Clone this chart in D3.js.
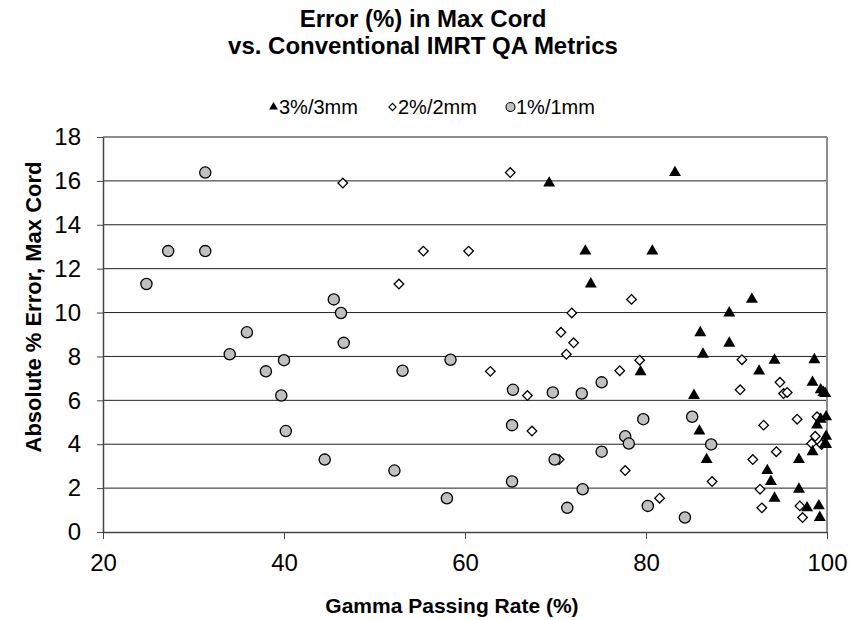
<!DOCTYPE html>
<meta charset="utf-8">
<script src="https://d3js.org/d3.v7.min.js"></script>
<style>
  body { margin: 0; background: #fff; }
  text { font-family: "Liberation Sans", Arial, sans-serif; }
</style>
<div id="chart"></div>
<script>
// gamma passing rate (%) and absolute % error in max cord, per criterion
var gamma3 = [83.2, 69.3, 73.3, 80.7, 73.9, 91.7, 89.2, 86.0, 89.2, 86.3, 94.2, 98.6,
              79.4, 92.5, 98.4, 85.3, 99.3, 99.6, 99.8, 99.9, 99.3, 98.9, 85.9, 99.9,
              99.9, 99.8, 98.4, 86.7, 96.9, 93.4, 93.8, 96.9, 94.2, 97.8, 99.1, 99.2];
var error3 = [16.38, 15.9, 12.8, 12.8, 11.3, 10.6, 9.98, 9.08, 8.6, 8.1, 7.83, 7.85,
              7.3, 7.33, 6.82, 6.22, 6.48, 6.36, 6.31, 5.25, 5.14, 4.87, 4.6, 4.36,
              3.99, 4.03, 3.66, 3.3, 3.3, 2.8, 2.3, 1.95, 1.54, 1.1, 1.19, 0.66];

var gamma2 = [65.0, 46.5, 55.4, 60.4, 52.7, 78.4, 71.8, 70.6, 72.0, 71.2, 79.3, 90.6,
              62.8, 77.1, 94.8, 66.9, 90.4, 95.2, 95.6, 96.7, 98.9, 93.0, 67.4, 98.7,
              98.3, 99.4, 94.4, 70.4, 91.8, 77.7, 87.3, 92.6, 81.5, 92.8, 97.0, 97.3];
var error2 = [16.38, 15.9, 12.8, 12.8, 11.3, 10.6, 9.98, 9.1, 8.62, 8.1, 7.83, 7.85,
              7.32, 7.35, 6.82, 6.22, 6.48, 6.31, 6.36, 5.14, 5.25, 4.87, 4.6, 4.36,
              4.03, 3.99, 3.66, 3.3, 3.3, 2.8, 2.3, 1.95, 1.54, 1.1, 1.19, 0.66];

var gamma1 = [31.3, 27.2, 31.3, 24.8, 45.5, 46.3, 35.9, 46.6, 34.0, 40.0, 58.4, 38.0,
              53.1, 75.1, 39.7, 65.3, 69.7, 72.9, 79.7, 85.1, 65.2, 40.2, 77.7, 78.1,
              87.2, 75.1, 44.5, 69.9, 52.2, 65.2, 73.0, 58.0, 71.3, 80.2, 84.3];
var error1 = [16.38, 12.8, 12.8, 11.3, 10.6, 9.98, 9.1, 8.62, 8.1, 7.83, 7.85, 7.32,
              7.35, 6.82, 6.22, 6.48, 6.36, 6.31, 5.14, 5.25, 4.87, 4.6, 4.36, 4.03,
              3.99, 3.66, 3.3, 3.3, 2.8, 2.3, 1.95, 1.54, 1.1, 1.19, 0.66];

var xTicks = [20, 40, 60, 80, 100];
var yTicks = [0, 2, 4, 6, 8, 10, 12, 14, 16, 18];
var legendLabels = ["3%/3mm", "2%/2mm", "1%/1mm"];

var margin = {top: 137, right: 26, bottom: 88, left: 103},
    width = 853 - margin.left - margin.right,
    height = 620 - margin.top - margin.bottom;

var svgRoot = d3.select("#chart")
  .append("svg")
    .attr("width", 853)
    .attr("height", 620);

var svg = svgRoot.append("g")
    .attr("transform", "translate(" + margin.left + "," + margin.top + ")");

var x = d3.scaleLinear().domain([20, 100]).range([0, width]);
var y = d3.scaleLinear().domain([0, 18]).range([height, 0]);

// horizontal gridlines
svg.selectAll(".grid")
  .data(yTicks.filter(function(d) { return d > 0 && d < 18; }))
  .enter().append("line")
    .attr("x1", 0).attr("x2", width)
    .attr("y1", function(d) { return y(d); })
    .attr("y2", function(d) { return y(d); })
    .attr("stroke", "#222")
    .attr("stroke-width", 1);

// top and right frame
svg.append("line")
  .attr("x1", 0).attr("x2", width).attr("y1", y(18)).attr("y2", y(18))
  .attr("stroke", "#8c8c8c").attr("stroke-width", 2);
svg.append("line")
  .attr("x1", width).attr("x2", width).attr("y1", y(18)).attr("y2", height)
  .attr("stroke", "#8c8c8c").attr("stroke-width", 2);

// axes
var xAxis = svg.append("g")
  .attr("transform", "translate(0," + height + ")")
  .call(d3.axisBottom(x).tickValues(xTicks).tickSize(7).tickPadding(15).tickSizeOuter(0));
var yAxis = svg.append("g")
  .call(d3.axisLeft(y).tickValues(yTicks).tickSize(6).tickPadding(16).tickSizeOuter(0));

[xAxis, yAxis].forEach(function(a) {
  a.select(".domain").attr("stroke", "#444").attr("stroke-width", 1.5);
  a.selectAll(".tick line").attr("stroke", "#444");
  a.selectAll("text")
    .style("font-family", "'Liberation Sans', Arial, sans-serif")
    .style("font-size", "24px")
    .attr("fill", "#000");
});

// series
function pts(gx, ey) {
  return gx.map(function(g, i) { return {g: g, e: ey[i]}; });
}

svg.selectAll(".s2")
  .data(pts(gamma2, error2))
  .enter().append("path")
    .attr("d", d3.symbol().type(d3.symbolSquare).size(46))
    .attr("transform", function(d) { return "translate(" + x(d.g) + "," + y(d.e) + ") rotate(45)"; })
    .attr("fill", "#fff")
    .attr("stroke", "#000")
    .attr("stroke-width", 1.3);

svg.selectAll(".s3")
  .data(pts(gamma3, error3))
  .enter().append("path")
    .attr("d", d3.symbol().type(d3.symbolTriangle).size(62))
    .attr("transform", function(d) { return "translate(" + x(d.g) + "," + y(d.e) + ")"; })
    .attr("fill", "#000");

svg.selectAll(".s1")
  .data(pts(gamma1, error1))
  .enter().append("circle")
    .attr("cx", function(d) { return x(d.g); })
    .attr("cy", function(d) { return y(d.e); })
    .attr("r", 5.6)
    .attr("fill", "#c0c0c0")
    .attr("stroke", "#000")
    .attr("stroke-width", 1.3);

// titles
var title = svgRoot.append("text")
  .attr("text-anchor", "middle")
  .style("font-size", "24px")
  .style("font-weight", "bold");
title.append("tspan").attr("x", 423).attr("y", 27).text("Error (%) in Max Cord");
title.append("tspan").attr("x", 423).attr("y", 54).text("vs. Conventional IMRT QA Metrics");

svgRoot.append("text")
  .attr("text-anchor", "middle")
  .attr("x", 452)
  .attr("y", 613)
  .style("font-size", "21px")
  .style("font-weight", "bold")
  .text("Gamma Passing Rate (%)");

svgRoot.append("text")
  .attr("text-anchor", "middle")
  .attr("transform", "translate(41,307) rotate(-90)")
  .style("font-size", "22px")
  .style("font-weight", "bold")
  .text("Absolute % Error, Max Cord");

// legend
var legendX = [273.5, 392.5, 510.5];
var legend = svgRoot.append("g");
legend.append("path")
  .attr("d", d3.symbol().type(d3.symbolTriangle).size(34))
  .attr("transform", "translate(" + legendX[0] + ",107)")
  .attr("fill", "#000");
legend.append("path")
  .attr("d", d3.symbol().type(d3.symbolSquare).size(26))
  .attr("transform", "translate(" + legendX[1] + ",107) rotate(45)")
  .attr("fill", "#fff").attr("stroke", "#000").attr("stroke-width", 1.1);
legend.append("circle")
  .attr("cx", legendX[2]).attr("cy", 107).attr("r", 4.5)
  .attr("fill", "#c0c0c0").attr("stroke", "#000").attr("stroke-width", 1.1);
legend.selectAll(".lt")
  .data(legendLabels)
  .enter().append("text")
    .attr("x", function(d, i) { return legendX[i] + 5.5; })
    .attr("y", 114)
    .style("font-size", "20px")
    .text(function(d) { return d; });
</script>
